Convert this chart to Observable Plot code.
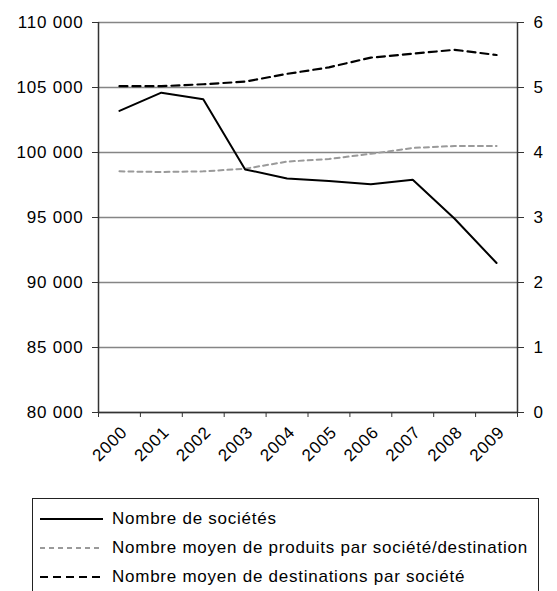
<!DOCTYPE html>
<html>
<head>
<meta charset="utf-8">
<script src="https://cdn.jsdelivr.net/npm/d3@7"></script>
<script src="https://cdn.jsdelivr.net/npm/@observablehq/plot@0.6"></script>
<style>
  body { margin: 0; background: #fff; font-family: "Liberation Sans", Arial, sans-serif; }
  #chart { position: absolute; left: 0; top: 0; }
  #chart svg text { font-size: 17px; letter-spacing: 0.8px; fill: #000; }
  #legend { position: absolute; left: 32px; top: 498px; width: 507px; height: 120px; border: 1px solid #222; box-sizing: border-box; }
  .row { position: absolute; left: 0; height: 20px; display: flex; align-items: center; font-size: 17px; letter-spacing: 0.75px; color: #000; white-space: nowrap; }
  .row svg { margin-left: 7px; margin-right: 9px; }
</style>
</head>
<body>
<div id="chart"></div>
<div id="legend"></div>
<script>
const years = [2000, 2001, 2002, 2003, 2004, 2005, 2006, 2007, 2008, 2009];
const societes = [103200, 104600, 104100, 98700, 98000, 97800, 97550, 97900, 94900, 91500];
const produits = [3.71, 3.70, 3.71, 3.75, 3.86, 3.90, 3.98, 4.07, 4.10, 4.10];
const destinations = [5.02, 5.02, 5.05, 5.09, 5.21, 5.31, 5.46, 5.52, 5.58, 5.50];
const leftTicks = [80000, 85000, 90000, 95000, 100000, 105000, 110000];
const rightTicks = [0, 1, 2, 3, 4, 5, 6];
const seriesNames = ["Nombre de sociétés", "Nombre moyen de produits par société/destination", "Nombre moyen de destinations par société"];

// right axis maps 0..6 onto the left scale 80000..110000
const toLeft = v => 80000 + v * 5000;
const fmt = v => d3.format(",")(v).replace(/,/g, " ");

const dSoc = years.map((y, i) => ({year: y, v: societes[i]}));
const dProd = years.map((y, i) => ({year: y, v: toLeft(produits[i])}));
const dDest = years.map((y, i) => ({year: y, v: toLeft(destinations[i])}));
const bounds = d3.range(years.length + 1).map(i => years[0] - 0.5 + i);

const chart = Plot.plot({
  width: 557,
  height: 470,
  marginLeft: 98,
  marginRight: 40,
  marginTop: 22,
  marginBottom: 58,
  style: {fontFamily: "'Liberation Sans', Arial, sans-serif", fontSize: "17px", color: "#000", background: "#fff"},
  x: {domain: [years[0] - 0.5, years[years.length - 1] + 0.5]},
  y: {domain: [80000, 110000]},
  marks: [
    Plot.ruleY(leftTicks, {stroke: "#858585", strokeWidth: 1.5}),
    Plot.ruleX([years[0] - 0.5, years[years.length - 1] + 0.5], {stroke: "#333", strokeWidth: 1.5}),
    Plot.ruleY([80000], {stroke: "#333", strokeWidth: 1.5}),
    Plot.axisY({ticks: leftTicks, anchor: "left", tickFormat: fmt, tickSize: 6, tickPadding: 9, stroke: "#333", label: null}),
    Plot.axisY({ticks: leftTicks, anchor: "right", tickFormat: (d, i) => String(rightTicks[i]), tickSize: 6, tickPadding: 10, stroke: "#333", label: null}),
    Plot.axisX({ticks: bounds, tickFormat: () => "", tickSize: 5, stroke: "#333", label: null}),
    Plot.text(years, {x: d => d, y: 80000, text: d => String(d), rotate: -45, textAnchor: "end", lineAnchor: "middle", dx: 5, dy: 17}),
    Plot.line(dProd, {x: "year", y: "v", stroke: "#9a9a9a", strokeWidth: 2, strokeDasharray: "5,4"}),
    Plot.line(dDest, {x: "year", y: "v", stroke: "#000", strokeWidth: 2.2, strokeDasharray: "8,5"}),
    Plot.line(dSoc, {x: "year", y: "v", stroke: "#000", strokeWidth: 2})
  ]
});
document.getElementById("chart").appendChild(chart);

const legendStyles = [
  {stroke: "#000", dash: null, width: 2},
  {stroke: "#9a9a9a", dash: "5,4", width: 2},
  {stroke: "#000", dash: "8,5", width: 2.2}
];
const legend = d3.select("#legend");
seriesNames.forEach((name, i) => {
  const row = legend.append("div").attr("class", "row").style("top", (10 + i * 29) + "px");
  const s = row.append("svg").attr("width", 63).attr("height", 10);
  s.append("line").attr("x1", 0).attr("x2", 63).attr("y1", 5).attr("y2", 5)
    .attr("stroke", legendStyles[i].stroke).attr("stroke-width", legendStyles[i].width)
    .attr("stroke-dasharray", legendStyles[i].dash);
  row.append("span").text(name);
});
</script>
</body>
</html>
